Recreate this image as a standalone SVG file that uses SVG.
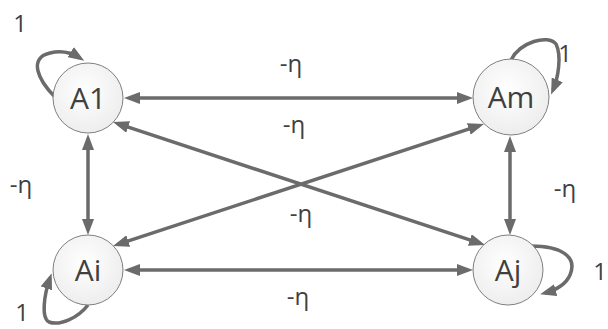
<svg xmlns="http://www.w3.org/2000/svg" width="608" height="329" viewBox="0 0 608 329">
  <defs>
    <radialGradient id="nodeFill" cx="45%" cy="40%" r="65%">
      <stop offset="0" stop-color="#ffffff"/>
      <stop offset="1" stop-color="#ececec"/>
    </radialGradient>
    <marker id="arr" markerUnits="userSpaceOnUse" markerWidth="16" markerHeight="12" refX="11" refY="6" orient="auto-start-reverse">
      <path d="M0,0 L16,6 L0,12 z" fill="#6b6b6b"/>
    </marker>
    <style>
      .node circle { fill: url(#nodeFill); stroke: #7f7f7f; stroke-width: 1; }
      .node text { font-family: "Open Sans", "Liberation Sans", sans-serif; font-size: 30px; fill: #404040; text-anchor: middle; }
      .edge { stroke: #6b6b6b; stroke-width: 3.5; fill: none; }
      .bi { marker-start: url(#arr); marker-end: url(#arr); }
      .uni { marker-end: url(#arr); }
      .lbl { font-family: "Open Sans", "Liberation Sans", sans-serif; font-size: 24px; fill: #404040; text-anchor: middle; }
    </style>
  </defs>
  <rect width="608" height="329" fill="#ffffff"/>

  <g id="connectors">
    <line class="edge bi" x1="129" y1="98" x2="468" y2="98"/>
    <line class="edge bi" x1="129" y1="270" x2="468" y2="270"/>
    <line class="edge bi" x1="88" y1="139" x2="88" y2="230"/>
    <line class="edge bi" x1="510" y1="141" x2="510" y2="230"/>
    <line class="edge bi" x1="117.7" y1="123.6" x2="480.3" y2="243.4"/>
    <line class="edge bi" x1="479.2" y1="125.6" x2="117.8" y2="244.4"/>
    <path class="edge uni" d="M55,97 C38,80 28,58 50,53 C62,50 72,53 80,58"/>
    <path class="edge uni" d="M511,60 C520,42 548,34 556,44 C562,56 558,78 553,90"/>
    <path class="edge uni" d="M531,246 C560,246 578,256 570,275 C566,284 556,290 545,293"/>
    <path class="edge uni" d="M88,305 C78,318 60,326 49,322 C41,318 44,295 50,278"/>
  </g>

  <g id="labels">
    <text class="lbl" x="291" y="72">-η</text>
    <text class="lbl" x="294" y="133">-η</text>
    <text class="lbl" x="301" y="222">-η</text>
    <text class="lbl" x="298" y="305">-η</text>
    <text class="lbl" x="21" y="193">-η</text>
    <text class="lbl" x="565" y="197">-η</text>
    <text class="lbl" x="20" y="32">1</text>
    <text class="lbl" x="565" y="62">1</text>
    <text class="lbl" x="600" y="280">1</text>
    <text class="lbl" x="22" y="321">1</text>
  </g>

  <g id="A1" class="node">
    <circle cx="88" cy="98" r="35"/>
    <text x="88" y="109">A1</text>
  </g>
  <g id="Am" class="node">
    <circle cx="511" cy="97" r="38"/>
    <text x="511" y="108">Am</text>
  </g>
  <g id="Ai" class="node">
    <circle cx="88" cy="270" r="35"/>
    <text x="88" y="281">Ai</text>
  </g>
  <g id="Aj" class="node">
    <circle cx="508" cy="270" r="35"/>
    <text x="508" y="281">Aj</text>
  </g>
</svg>
